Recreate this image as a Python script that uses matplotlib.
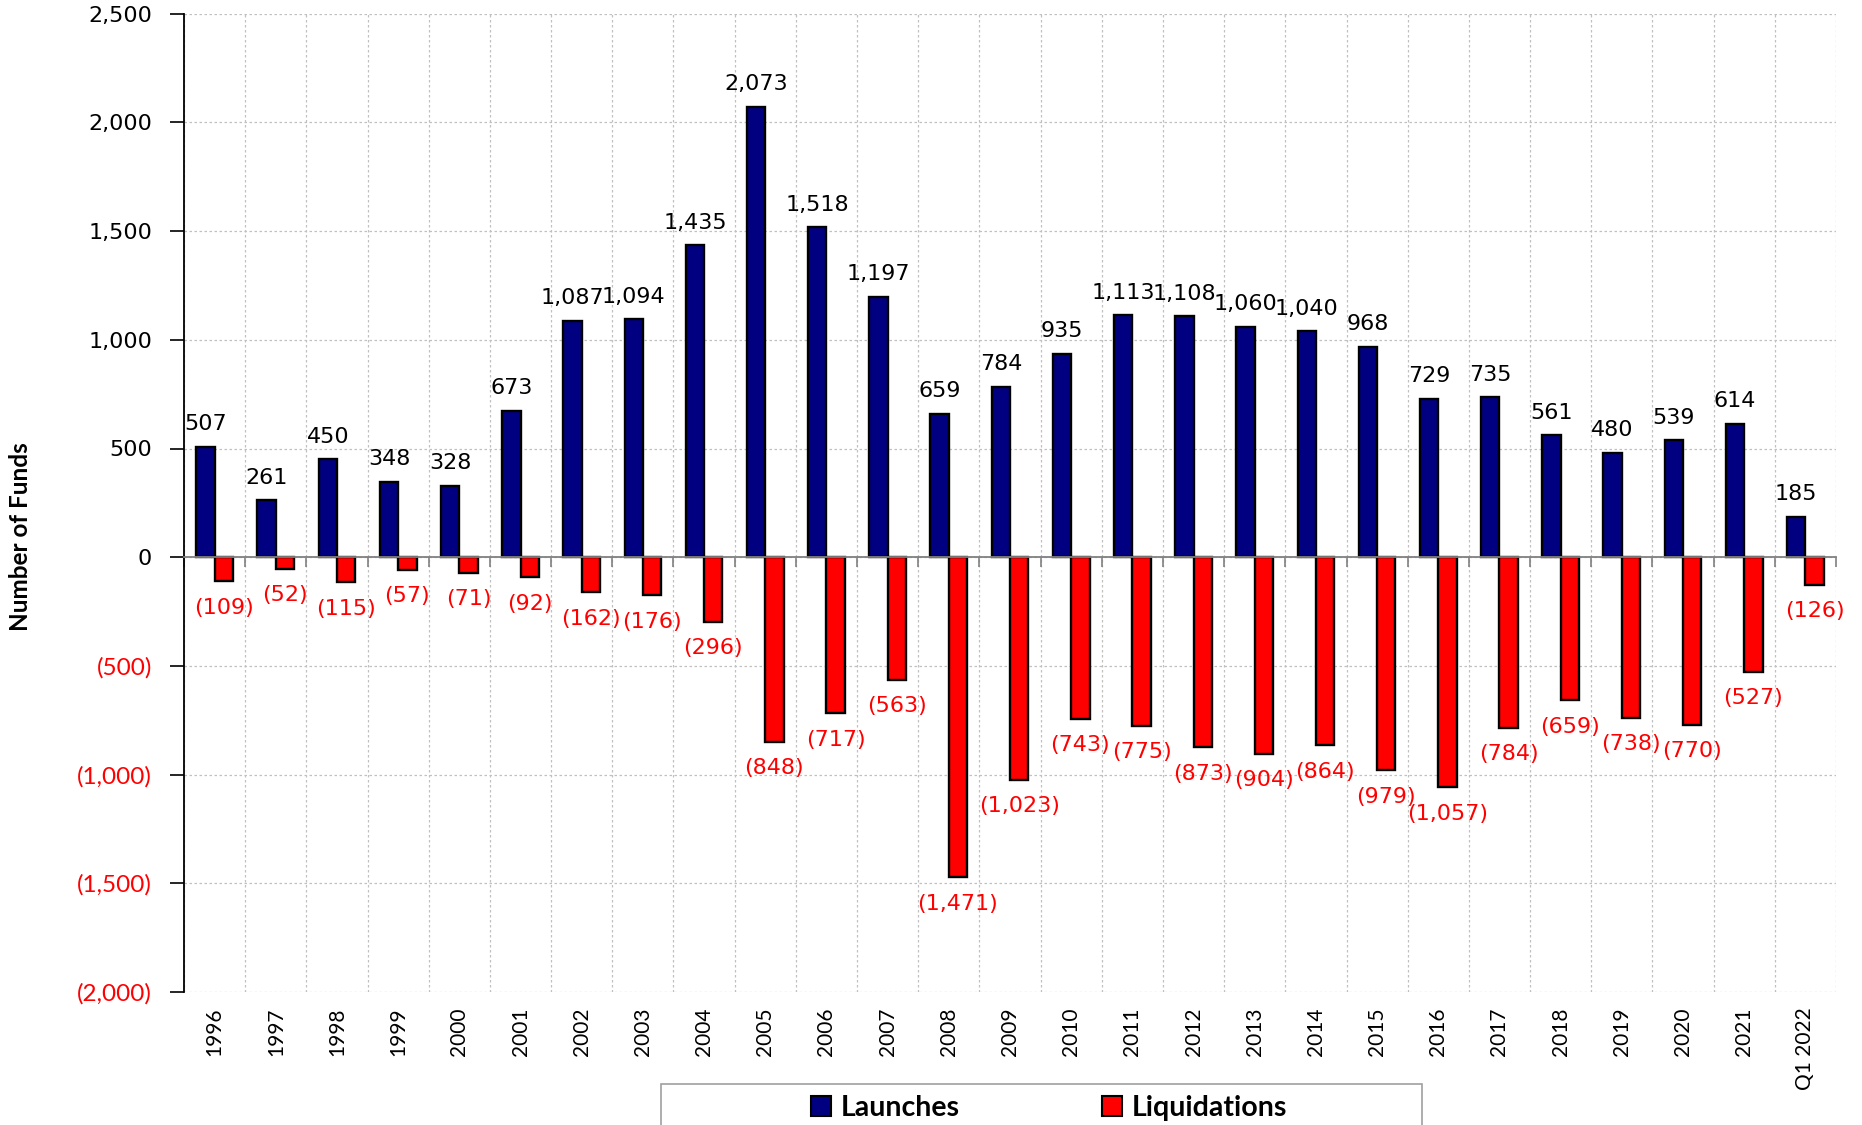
import matplotlib.pyplot as plt
from matplotlib.patches import Patch, Rectangle

# data
years = ["1996", "1997", "1998", "1999", "2000", "2001", "2002", "2003", "2004",
         "2005", "2006", "2007", "2008", "2009", "2010", "2011", "2012", "2013",
         "2014", "2015", "2016", "2017", "2018", "2019", "2020", "2021", "Q1 2022"]
launches = [507, 261, 450, 348, 328, 673, 1087, 1094, 1435, 2073, 1518, 1197, 659,
            784, 935, 1113, 1108, 1060, 1040, 968, 729, 735, 561, 480, 539, 614, 185]
liquidations = [109, 52, 115, 57, 71, 92, 162, 176, 296, 848, 717, 563, 1471,
                1023, 743, 775, 873, 904, 864, 979, 1057, 784, 659, 738, 770, 527, 126]
yticks = [2500, 2000, 1500, 1000, 500, 0, -500, -1000, -1500, -2000]

BLUE = "#000080"
RED = "#FF0000"

def fmt(v):
    if v < 0:
        return "({:,})".format(-v)
    return "{:,}".format(v)

fig = plt.figure(figsize=(18.62, 11.25), dpi=100)
ax = fig.add_axes([184 / 1862, 1 - 992 / 1125, (1836 - 184) / 1862, (992 - 13.7) / 1125])

x = list(range(len(years)))
w = 0.3
ax.bar([i - w / 2 for i in x], launches, width=w, color=BLUE, edgecolor="black", linewidth=1.7, zorder=3)
ax.bar([i + w / 2 for i in x], [-v for v in liquidations], width=w, color=RED, edgecolor="black", linewidth=1.7, zorder=3)

# data labels
for i in x:
    ax.annotate(fmt(launches[i]), (i - w / 2, launches[i]), xytext=(0, 9), textcoords="offset points",
                ha="center", va="bottom", fontsize=16, family="DejaVu Sans", color="black")
    ax.annotate(fmt(-liquidations[i]), (i + w / 2, -liquidations[i]), xytext=(0, -12), textcoords="offset points",
                ha="center", va="top", fontsize=16, family="DejaVu Sans", color=RED)

ax.set_xlim(-0.5, len(years) - 0.5)
ax.set_ylim(-2000, 2500)

# y axis
ax.set_yticks(yticks)
ax.set_yticklabels([fmt(v) for v in yticks])
for lab, v in zip(ax.get_yticklabels(), yticks):
    if v < 0:
        lab.set_color(RED)
        lab.set_family("Lato")
        lab.set_fontsize(17.5)
    else:
        lab.set_color("black")
        lab.set_family("DejaVu Sans")
        lab.set_fontsize(16)
ax.tick_params(axis="y", direction="out", length=10, width=1.2, pad=13)
ax.spines["left"].set_linewidth(1.3)
ax.spines["top"].set_visible(False)
ax.spines["right"].set_visible(False)

# zero line with ticks at the category boundaries
ax.spines["bottom"].set_position(("data", 0))
ax.spines["bottom"].set_color("#808080")
ax.spines["bottom"].set_linewidth(1.3)
ax.spines["bottom"].set_zorder(4)
ax.set_xticks([i + 0.5 for i in range(-1, len(years))], minor=True)
ax.set_xticks([])
ax.tick_params(axis="x", which="minor", direction="out", length=7, width=1.2, color="#808080")

# grid
ax.set_axisbelow(True)
ax.grid(axis="y", which="major", color="#c0c0c0", linestyle=(0, (2, 2)), linewidth=0.9)
ax.grid(axis="x", which="minor", color="#c0c0c0", linestyle=(0, (2, 2)), linewidth=0.9)

# category labels along the bottom
sec = ax.secondary_xaxis(0.0)
sec.set_xticks(x)
sec.set_xticklabels(years, rotation=90, family="Lato", fontsize=15)
sec.tick_params(length=0, pad=11)
sec.spines["bottom"].set_visible(False)

fig.text(21 / 1862, 1 - 537 / 1125, "Number of Funds", rotation=90, ha="center", va="center",
         fontsize=17.5, fontweight="bold", family="Lato")

# legend
fig.patches.append(Rectangle((661 / 1862, -0.01), (1422 - 661) / 1862, 1 - 1084 / 1125 + 0.01,
                             transform=fig.transFigure, facecolor="white", edgecolor="#a0a0a0", linewidth=1.2))
handles = [Patch(facecolor=BLUE, edgecolor="black", linewidth=1.5, label="Launches"),
           Patch(facecolor=RED, edgecolor="black", linewidth=1.5, label="Liquidations")]
leg = fig.legend(handles=handles, loc="center", bbox_to_anchor=(1049 / 1862, 1 - 1108 / 1125), ncol=2,
                 frameon=False, handlelength=0.7, handleheight=0.7, handletextpad=0.35, columnspacing=5.0,
                 prop={"family": "Lato", "weight": "bold", "size": 20.5})

fig.savefig("out.png", dpi=100)
